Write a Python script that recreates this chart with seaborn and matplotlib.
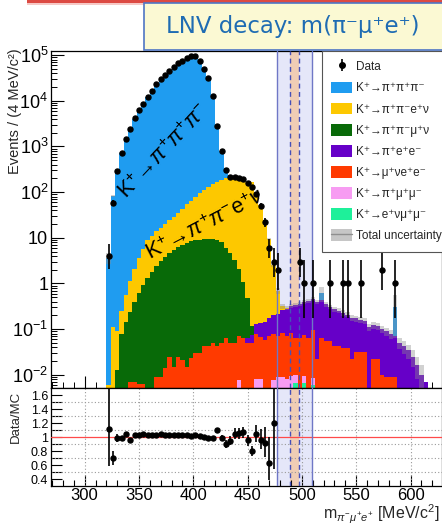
import numpy as np
import pandas as pd
import matplotlib
matplotlib.use("Agg")
import matplotlib.pyplot as plt
import seaborn as sns
from matplotlib.patches import Patch, Rectangle
from matplotlib.lines import Line2D
from matplotlib.ticker import MultipleLocator, FuncFormatter, NullFormatter, FixedLocator

# ---------------------------------------------------------------------------
# Binning: 4 MeV/c^2 bins, centres 322, 326, ..., 622
# ---------------------------------------------------------------------------
BIN_LO, BIN_W, N_BINS = 320.0, 4.0, 76

# Observed events per bin
data_counts = [
    4, 58, 290, 710, 1480, 2450, 4170, 6170, 8710, 12300,
    16600, 22900, 29500, 37200, 44700, 55000, 66100, 75900, 87100, 95500,
    93300, 74100, 50100, 31600, 12600, 2820, 794, 302, 219, 209,
    200, 191, 155, 132, 91, 50, 22, 6, 3, 2,
    0, 0, 0, 0, 3, 1, 0, 1, 0, 0,
    0, 1, 0, 0, 1, 1, 0, 0, 1, 0,
    0, 0, 0, 2, 0, 0, 1, 0, 0, 0,
    0, 0, 0, 0, 0, 0,
]

# Expected events per bin for each simulated background
k3pi = [
    3.6, 83, 296, 724, 1422, 2551, 4047, 5986, 8369, 11933,
    16106, 22219, 28348, 36097, 43374, 53369, 64139, 73645, 84509, 93562,
    90505, 72554, 49990, 32116, 12709, 2398, 616, 130, 12, 1,
    0.3, 0, 0, 0, 0, 0, 0, 0, 0, 0,
    0, 0, 0, 0, 0, 0, 0, 0, 0, 0.18,
    0, 0, 0, 0, 0, 0, 0, 0, 0, 0,
    0, 0, 0, 0, 0, 0, 0.24, 0, 0, 0,
    0, 0, 0, 0, 0, 0,
]
kpienu = [
    0.006, 0.11, 0.077, 0.17, 0.42, 0.88, 1.69, 2.92, 4.82, 7.6,
    9.4, 11.5, 13.6, 16.2, 19.3, 23.3, 29.2, 36.6, 46, 56.2,
    68.9, 84.2, 100.5, 119.5, 139, 157, 178, 200, 215, 195,
    188, 178, 162.5, 165, 87, 52, 24, 9.4, 2.3, 0.48,
    0.05, 0.01, 0, 0, 0, 0, 0, 0, 0, 0,
    0, 0, 0, 0, 0, 0, 0, 0, 0, 0,
    0, 0, 0, 0, 0, 0, 0, 0, 0, 0,
    0, 0, 0, 0, 0, 0,
]
kpimunu = [
    0, 0, 0.0125, 0.08, 0.14, 0.233, 0.39, 0.62, 0.93, 1.32,
    1.78, 2.34, 3.02, 3.80, 4.68, 5.50, 6.31, 7.08, 7.76, 8.32,
    8.71, 9.12, 9.33, 9.33, 9.12, 8.71, 7.94, 6.0, 4.5, 3.2,
    2.0, 1.0, 0.42, 0.04, 0, 0, 0, 0, 0, 0,
    0, 0, 0, 0, 0, 0, 0, 0, 0, 0,
    0, 0, 0, 0, 0, 0, 0, 0, 0, 0,
    0, 0, 0, 0, 0, 0, 0, 0, 0, 0,
    0, 0, 0, 0, 0, 0,
]
kpiee = [
    0, 0, 0, 0, 0, 0, 0, 0, 0, 0,
    0, 0, 0, 0, 0, 0, 0, 0, 0, 0,
    0, 0, 0, 0, 0, 0, 0, 0, 0, 0,
    0, 0, 0.015, 0.025, 0.05, 0.07, 0.085, 0.10, 0.12, 0.15,
    0.18, 0.21, 0.24, 0.27, 0.30, 0.32, 0.35, 0.37, 0.37, 0.36,
    0.29, 0.25, 0.23, 0.21, 0.19, 0.17, 0.155, 0.14, 0.13, 0.12,
    0.11, 0.10, 0.095, 0.09, 0.08, 0.07, 0.06, 0.05, 0.042, 0.034,
    0.025, 0.016, 0.01, 0.007, 0, 0,
]
kmunuee = [
    0, 0, 0, 0, 0, 0.0068, 0.0068, 0.0063, 0.0063, 0,
    0, 0.009, 0.009, 0.0138, 0.025, 0.015, 0.025, 0.021, 0.015, 0.023,
    0.030, 0.030, 0.042, 0.042, 0.049, 0.042, 0.049, 0.063, 0.049, 0.049,
    0.063, 0.063, 0.049, 0.049, 0.071, 0.058, 0.058, 0.071, 0.071, 0.060,
    0.074, 0.063, 0.071, 0.054, 0.063, 0.063, 0.063, 0.085, 0.022, 0.063,
    0.056, 0.056, 0.042, 0.042, 0.038, 0.038, 0.022, 0.032, 0.032, 0.032,
    0, 0.022, 0.022, 0.010, 0.009, 0.009, 0.009, 0, 0, 0,
    0, 0, 0, 0, 0, 0,
]
kpimumu = [
    0, 0, 0, 0, 0, 0, 0, 0, 0, 0,
    0, 0, 0, 0, 0, 0, 0, 0, 0, 0,
    0, 0, 0, 0, 0, 0, 0, 0, 0, 0,
    0.0075, 0, 0, 0, 0.008, 0.008, 0, 0, 0.0075, 0.009,
    0.009, 0.008, 0.0095, 0.0035, 0, 0.003, 0, 0.0025, 0, 0,
    0, 0, 0, 0, 0, 0, 0, 0, 0, 0,
    0, 0, 0, 0, 0, 0, 0, 0, 0, 0,
    0, 0, 0, 0, 0, 0,
]
kenumumu = [
    0, 0, 0, 0, 0, 0, 0, 0, 0, 0,
    0, 0, 0, 0, 0, 0, 0, 0, 0, 0,
    0, 0, 0, 0, 0, 0, 0, 0, 0, 0,
    0, 0, 0, 0, 0, 0, 0, 0, 0, 0,
    0, 0, 0, 0.0065, 0, 0.0065, 0, 0.006, 0, 0,
    0, 0, 0, 0, 0, 0, 0, 0, 0, 0,
    0, 0, 0, 0, 0, 0, 0, 0, 0, 0,
    0, 0, 0, 0, 0, 0,
]

# Per-event weight of each simulated sample (sets the MC statistical error)
mc_event_weights = [0.25, 0.02, 0.01, 0.004, 0.003, 0.0025, 0.003]

process_labels = [
    "K\u207a\u2192\u03c0\u207a\u03c0\u207a\u03c0\u207b",
    "K\u207a\u2192\u03c0\u207a\u03c0\u207be\u207a\u03bd",
    "K\u207a\u2192\u03c0\u207a\u03c0\u207b\u03bc\u207a\u03bd",
    "K\u207a\u2192\u03c0\u207ae\u207ae\u207b",
    "K\u207a\u2192\u03bc\u207a\u03bde\u207ae\u207b",
    "K\u207a\u2192\u03c0\u207a\u03bc\u207a\u03bc\u207b",
    "K\u207a\u2192e\u207a\u03bd\u03bc\u207a\u03bc\u207b",
]
process_colors = ["#1f9cf0", "#fdc800", "#086a08", "#6600c8", "#ff3a00", "#f79cf2", "#1ef09a"]

# Signal window (blue band) and blinded core (orange band), MeV/c^2
window = (477.0, 509.0)
core = (489.2, 497.4)

# Decades labelled on the event axis
decades = [-2, -1, 0, 1, 2, 3, 4, 5]

# ---------------------------------------------------------------------------
sns.set_theme(style="ticks")
plt.rcParams["font.family"] = ["Liberation Sans", "DejaVu Sans"]
plt.rcParams["mathtext.fontset"] = "custom"
plt.rcParams["mathtext.rm"] = "Liberation Sans"
plt.rcParams["mathtext.it"] = "Liberation Sans:italic"
plt.rcParams["mathtext.bf"] = "Liberation Sans:bold"
plt.rcParams["axes.linewidth"] = 0.9
plt.rcParams["axes.edgecolor"] = "black"
plt.rcParams["xtick.direction"] = "in"
plt.rcParams["ytick.direction"] = "in"
plt.rcParams["xtick.color"] = "black"
plt.rcParams["ytick.color"] = "black"

W, H = 442, 526
fig = plt.figure(figsize=(W / 100, H / 100), dpi=100)
fig.patch.set_facecolor("white")


def fx(px):
    return px / W


def fy(py):
    return 1 - py / H


ax = fig.add_axes([fx(51), fy(388), fx(442) - fx(51), fy(51) - fy(388)])
rax = fig.add_axes([fx(51), fy(486), fx(442) - fx(51), fy(388) - fy(486)])
XLIM = (269, 629)
YLIM = (10 ** -2.29, 10 ** 5.09)

edges = BIN_LO + BIN_W * np.arange(N_BINS + 1)
centers = 0.5 * (edges[:-1] + edges[1:])
components = [k3pi, kpienu, kpimunu, kpiee, kmunuee, kpimumu, kenumumu]

# --- stacked simulation ----------------------------------------------------
ax.set_yscale("log")
for a in (ax, rax):
    a.axvspan(*window, color="#e5e7f9", lw=0, zorder=0)
    a.axvspan(*core, color="#f0cdb5", lw=0, zorder=0.5)

mc = pd.concat(
    [pd.DataFrame({"mass": centers, "events": v, "process": lab})
     for lab, v in zip(process_labels, components)],
    ignore_index=True,
)
sns.histplot(
    data=mc, x="mass", weights="events", hue="process",
    hue_order=process_labels, palette=dict(zip(process_labels, process_colors)),
    bins=[float(e) for e in edges], multiple="stack", element="step", fill=True,
    alpha=1.0, linewidth=0, legend=False, ax=ax, zorder=2,
)

comp_arr = np.array(components, dtype=float)
mc_total = comp_arr.sum(axis=0)
mc_err = np.sqrt((comp_arr * np.array(mc_event_weights)[:, None]).sum(axis=0))
has_mc = mc_total > 0
band_lo = np.where(has_mc, np.maximum(mc_total - mc_err, 1e-6), np.nan)
band_hi = np.where(has_mc, mc_total + mc_err, np.nan)
ax.fill_between(edges, np.append(band_lo, band_lo[-1]), np.append(band_hi, band_hi[-1]),
                step="post", color="#8c8c8c", alpha=0.4, lw=0, zorder=3)

# --- data with Poisson (Garwood) intervals ---------------------------------
counts = np.array(data_counts, dtype=float)


def chi2_quantile(k, z):
    return k * (1 - 2 / (9 * k) + z * np.sqrt(2 / (9 * k))) ** 3


lo = np.where(counts > 0, 0.5 * chi2_quantile(np.maximum(2 * counts, 1e-9), -1.0), 0.0)
hi = 0.5 * chi2_quantile(2 * counts + 2, 1.0)
sel = counts > 0
ax.errorbar(centers[sel], counts[sel], yerr=[counts[sel] - lo[sel], hi[sel] - counts[sel]],
            fmt="o", color="black", ms=3.6, elinewidth=1.2, capsize=0, zorder=6)

# --- signal window lines ---------------------------------------------------
for a in (ax, rax):
    for xv in window:
        a.axvline(xv, color="#6f77c6", lw=1.0, zorder=4)
    for xv in core:
        a.axvline(xv, color="#4650b8", lw=1.0, ls=(0, (3.5, 2.5)), zorder=4)

# --- process labels drawn on the distributions -----------------------------
ax.text(373, 760, r"K$^{+}\!\rightarrow\!\pi^{+}\pi^{+}\pi^{-}$", rotation=46.5,
        rotation_mode="anchor", ha="center", va="center", fontsize=15.5, color="black", zorder=7)
ax.text(411.5, 19, r"K$^{+}\!\rightarrow\!\pi^{+}\pi^{-}$e$^{+}\nu$", rotation=27.4,
        rotation_mode="anchor", ha="center", va="center", fontsize=15.5, color="black", zorder=7)

# --- main axes cosmetics ---------------------------------------------------
ax.set_xlim(*XLIM)
ax.set_ylim(*YLIM)
ax.set_xlabel("")
ax.set_ylabel("")
ax.xaxis.set_major_locator(MultipleLocator(50))
ax.xaxis.set_minor_locator(MultipleLocator(10))
ax.tick_params(axis="x", which="both", labelbottom=False)
major_y = [10.0 ** e for e in decades]
minor_y = [m * 10.0 ** e for e in range(decades[0] - 1, decades[-1] + 1) for m in range(2, 10)
           if YLIM[0] <= m * 10.0 ** e <= YLIM[1]]
ax.yaxis.set_major_locator(FixedLocator(major_y))
ax.yaxis.set_minor_locator(FixedLocator(minor_y))
ax.yaxis.set_minor_formatter(NullFormatter())


def log_label(v, pos):
    e = int(round(np.log10(v)))
    if e == 0:
        return "1"
    if e == 1:
        return "10"
    return r"$10^{%d}$" % e


ax.yaxis.set_major_formatter(FuncFormatter(log_label))
ax.tick_params(axis="both", which="major", length=9, width=0.8)
ax.tick_params(axis="both", which="minor", length=4.5, width=0.7)
ax.tick_params(axis="y", labelsize=13, pad=2)

# --- legend ------------------------------------------------------------------
data_handle = ax.errorbar([np.nan], [np.nan], yerr=[[1.0], [1.0]], fmt="o", color="black",
                          ms=4, elinewidth=1.2, capsize=0)
handles = [data_handle] + [Patch(facecolor=c, edgecolor="none") for c in process_colors]
handles.append((Patch(facecolor="#c6c6c6", edgecolor="none"), Line2D([], [], color="#8f8f8f", lw=1)))
labels = ["Data"] + process_labels + ["Total uncertainty"]
leg = ax.legend(handles, labels, loc="upper left", bbox_to_anchor=(fx(322), fy(51)),
                bbox_transform=fig.transFigure, borderaxespad=0, fontsize=8.5,
                frameon=True, fancybox=False, framealpha=1, edgecolor="#555555",
                handlelength=1.75, handleheight=1.15, handletextpad=0.3,
                labelspacing=0.7, borderpad=0.8)
leg.get_frame().set_linewidth(0.8)
leg.set_zorder(10)

# --- ratio panel -------------------------------------------------------------
rsel = sel & has_mc & (centers < window[0])
ratio = counts[rsel] / mc_total[rsel]
r_lo = (counts[rsel] - lo[rsel]) / mc_total[rsel]
r_hi = (hi[rsel] - counts[rsel]) / mc_total[rsel]
rax.axhline(1.0, color="#ff4a4a", lw=0.9, zorder=3)
rax.errorbar(centers[rsel], ratio, yerr=[r_lo, r_hi], fmt="o", color="black",
             ms=3.6, elinewidth=1.2, capsize=0, zorder=6)
rax.set_xlim(*XLIM)
rax.set_ylim(0.3, 1.7)
rax.xaxis.set_major_locator(MultipleLocator(50))
rax.xaxis.set_minor_locator(MultipleLocator(10))
rax.yaxis.set_major_locator(FixedLocator([0.4, 0.6, 0.8, 1.0, 1.2, 1.4, 1.6]))
rax.yaxis.set_minor_locator(FixedLocator([0.5, 0.7, 0.9, 1.1, 1.3, 1.5]))
rax.yaxis.set_major_formatter(FuncFormatter(lambda v, p: "%g" % v))
for xv in range(300, 650, 50):
    rax.axvline(xv, color="#9a9a9a", lw=0.8, ls=(0, (1, 2)), zorder=1)
for yv in (0.5, 0.7, 0.9, 1.1, 1.3, 1.5):
    rax.axhline(yv, color="#9a9a9a", lw=0.8, ls=(0, (1, 2)), zorder=1)
rax.tick_params(axis="both", which="major", length=8, width=0.8)
rax.tick_params(axis="both", which="minor", length=8, width=0.8)
rax.tick_params(axis="x", which="minor", length=4.5)
rax.tick_params(axis="x", labelsize=12, pad=1.5)
rax.tick_params(axis="y", labelsize=9, pad=2)

# --- axis titles ---------------------------------------------------------------
fig.text(fx(15), fy(111), "Events / (4 MeV/c\u00b2)", rotation=90, ha="center", va="center",
         fontsize=10.5)
fig.text(fx(16), fy(417), "Data/MC", rotation=90, ha="center", va="center", fontsize=9.5)
fig.text(fx(439), fy(525.5), r"m$_{\pi^{-}\mu^{+}e^{+}}$ [MeV/c$^{2}$]", ha="right", va="bottom",
         fontsize=11.5)

# --- header bar and title box --------------------------------------------------
fig.patches.append(Rectangle((fx(27), fy(5)), 1, 2.5 / H, transform=fig.transFigure,
                             facecolor="#f6c9c6", edgecolor="none", zorder=1))
fig.patches.append(Rectangle((fx(27), fy(2.8)), 1, 2.8 / H, transform=fig.transFigure,
                             facecolor="#dc4a43", edgecolor="none", zorder=2))
fig.patches.append(Rectangle((fx(144), fy(50)), fx(310), 47 / H, transform=fig.transFigure,
                             facecolor="#fbf9d3", edgecolor="#4f76c4", lw=1.2, zorder=3))
fig.text(fx(293), fy(26), "LNV decay: m(\u03c0\u207b\u03bc\u207ae\u207a)", ha="center", va="center",
         fontsize=16.5, color="#1f6cb3", family=["DejaVu Sans"], zorder=4)

fig.savefig("out.png", dpi=100)
